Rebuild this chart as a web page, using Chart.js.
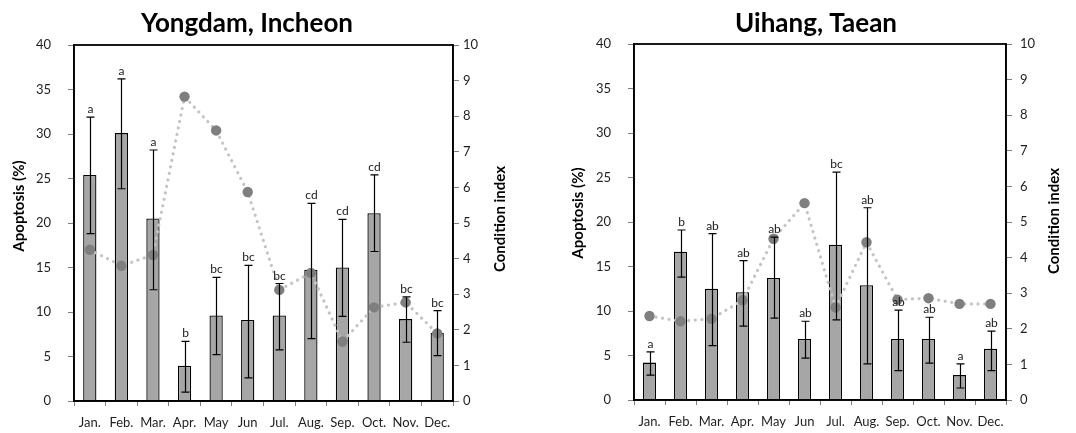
<!DOCTYPE html>
<html lang="en">
<head>
  <meta charset="UTF-8">
  <title>Apoptosis and condition index</title>
  <script src="https://cdn.jsdelivr.net/npm/chart.js"></script>
  <style>
    body { margin: 0; background: #fff; }
    .panel { position: absolute; top: 0; }
    #left { left: 0; }
    #right { left: 540px; }
  </style>
</head>
<body>
  <div class="panel" id="left"><canvas id="yongdam" width="540" height="433"></canvas></div>
  <div class="panel" id="right"><canvas id="uihang" width="536" height="433"></canvas></div>

  <script>
    // values
    const months = ['Jan.', 'Feb.', 'Mar.', 'Apr.', 'May', 'Jun', 'Jul.', 'Aug.', 'Sep.', 'Oct.', 'Nov.', 'Dec.'];
    const apoptosisTicks = [0, 5, 10, 15, 20, 25, 30, 35, 40];
    const conditionTicks = [0, 1, 2, 3, 4, 5, 6, 7, 8, 9, 10];

    const yongdamApoptosis = [25.4, 30.1, 20.5, 3.95, 9.6, 9.1, 9.6, 14.75, 15.0, 21.1, 9.2, 7.65];
    const yongdamUpper = [31.9, 36.2, 28.2, 6.7, 13.9, 15.25, 13.2, 22.2, 20.4, 25.4, 11.7, 10.15];
    const yongdamLower = [18.8, 23.85, 12.5, 1.0, 5.2, 2.6, 5.75, 7.0, 9.5, 16.8, 6.6, 5.1];
    const yongdamCondition = [4.25, 3.8, 4.1, 8.55, 7.6, 5.87, 3.12, 3.6, 1.67, 2.63, 2.77, 1.9];
    const yongdamLetters = ['a', 'a', 'a', 'b', 'bc', 'bc', 'bc', 'cd', 'cd', 'cd', 'bc', 'bc'];

    const uihangApoptosis = [4.2, 16.65, 12.5, 12.1, 13.7, 6.85, 17.45, 12.9, 6.85, 6.85, 2.8, 5.75];
    const uihangUpper = [5.4, 19.1, 18.7, 15.65, 18.3, 8.85, 25.6, 21.6, 10.1, 9.3, 4.05, 7.75];
    const uihangLower = [2.8, 13.8, 6.1, 8.3, 9.2, 4.7, 9.0, 4.05, 3.3, 4.15, 1.35, 3.3];
    const uihangCondition = [2.36, 2.21, 2.28, 2.8, 4.53, 5.53, 2.6, 4.43, 2.82, 2.86, 2.7, 2.7];
    const uihangLetters = ['a', 'b', 'ab', 'ab', 'ab', 'ab', 'bc', 'ab', 'ab', 'ab', 'a', 'ab'];

    const FONT = 'Lato, "Open Sans", sans-serif';
    const tickFont = { family: FONT, size: 13 };
    const tickColor = '#1f1f1f';

    // error bars, letters, frame and titles
    const decor = {
      id: 'decor',
      afterDatasetsDraw(chart, args, opts) {
        const ctx = chart.ctx;
        const y = chart.scales.y;
        const bars = chart.getDatasetMeta(1).data;
        ctx.save();
        ctx.strokeStyle = '#000';
        ctx.lineWidth = 1.2;
        bars.forEach((bar, i) => {
          const x = Math.round(bar.x) + 0.5;
          const hi = y.getPixelForValue(opts.upper[i]);
          const lo = y.getPixelForValue(opts.lower[i]);
          ctx.beginPath();
          ctx.moveTo(x, hi); ctx.lineTo(x, lo);
          ctx.moveTo(x - 4, hi); ctx.lineTo(x + 4, hi);
          ctx.moveTo(x - 4, lo); ctx.lineTo(x + 4, lo);
          ctx.stroke();
          ctx.fillStyle = '#1a1a1a';
          ctx.font = '12px ' + FONT;
          ctx.textAlign = 'center';
          ctx.textBaseline = 'alphabetic';
          ctx.fillText(opts.letters[i], x, hi - 4);
        });
        ctx.restore();
      },
      afterDraw(chart, args, opts) {
        const ctx = chart.ctx;
        const a = chart.chartArea;
        ctx.save();
        ctx.strokeStyle = '#000';
        ctx.lineWidth = 1.8;
        ctx.strokeRect(a.left, a.top, a.right - a.left, a.bottom - a.top);

        ctx.fillStyle = '#000';
        ctx.textAlign = 'center';
        ctx.textBaseline = 'alphabetic';
        ctx.font = 'bold 26px ' + FONT;
        ctx.fillText(opts.title, opts.titleX, 32);

        ctx.font = 'bold 15px ' + FONT;
        ctx.textBaseline = 'middle';
        [[opts.leftTitle, opts.leftX, opts.leftY], [opts.rightTitle, opts.rightX, opts.rightY]].forEach(t => {
          ctx.save();
          ctx.translate(t[1], t[2]);
          ctx.rotate(-Math.PI / 2);
          ctx.fillText(t[0], 0, 0);
          ctx.restore();
        });
        ctx.restore();
      }
    };

    function makeChart(id, apoptosis, condition, decorOpts, sizes) {
      const ctx = document.getElementById(id).getContext('2d');
      return new Chart(ctx, {
        data: {
          labels: months,
          datasets: [{
            type: 'line',
            label: 'Condition index',
            data: condition,
            yAxisID: 'y1',
            order: 0,
            borderColor: '#c4c4c4',
            borderWidth: 3.2,
            borderDash: [0.01, 6.6],
            borderCapStyle: 'round',
            tension: 0,
            fill: false,
            pointRadius: 5.2,
            pointBackgroundColor: '#7f7f7f',
            pointBorderColor: '#7f7f7f',
            pointBorderWidth: 0
          }, {
            type: 'bar',
            label: 'Apoptosis (%)',
            data: apoptosis,
            yAxisID: 'y',
            order: 1,
            backgroundColor: '#a6a6a6',
            borderColor: '#000',
            borderWidth: 1.3,
            barPercentage: 0.42,
            categoryPercentage: 1.0
          }]
        },
        options: {
          responsive: false,
          animation: false,
          layout: { padding: { top: sizes.top, left: 0, right: 0, bottom: 0 } },
          plugins: {
            legend: { display: false },
            tooltip: { enabled: false },
            decor: decorOpts
          },
          scales: {
            x: {
              grid: { drawOnChartArea: false, tickLength: 5, color: '#808080', offset: true },
              border: { color: '#000', width: 1.5 },
              ticks: { font: tickFont, color: tickColor, padding: 9, autoSkip: false, maxRotation: 0 },
              afterFit: s => { s.height = sizes.xh; }
            },
            y: {
              position: 'left',
              min: 0, max: 40,
              afterBuildTicks: s => { s.ticks = apoptosisTicks.map(v => ({ value: v })); },
              ticks: { font: tickFont, color: tickColor, padding: sizes.lpad },
              grid: { drawOnChartArea: false, tickLength: 6, color: '#808080' },
              border: { color: '#000', width: 1.5 },
              afterFit: s => { s.width = sizes.lw; }
            },
            y1: {
              position: 'right',
              min: 0, max: 10,
              afterBuildTicks: s => { s.ticks = conditionTicks.map(v => ({ value: v })); },
              ticks: { font: tickFont, color: tickColor, padding: sizes.rpad },
              grid: { drawOnChartArea: false, tickLength: 6, color: '#808080' },
              border: { color: '#000', width: 1.5 },
              afterFit: s => { s.width = sizes.rw; }
            }
          }
        },
        plugins: [decor]
      });
    }

    makeChart('yongdam', yongdamApoptosis, yongdamCondition, {
      upper: yongdamUpper, lower: yongdamLower, letters: yongdamLetters,
      title: 'Yongdam, Incheon', titleX: 247,
      leftTitle: 'Apoptosis (%)', leftX: 19, leftY: 206,
      rightTitle: 'Condition index', rightX: 500, rightY: 219
    }, { top: 45, xh: 32, lw: 74, rw: 87, lpad: 17, rpad: 4 });

    makeChart('uihang', uihangApoptosis, uihangCondition, {
      upper: uihangUpper, lower: uihangLower, letters: uihangLetters,
      title: 'Uihang, Taean', titleX: 276,
      leftTitle: 'Apoptosis (%)', leftX: 38, leftY: 213,
      rightTitle: 'Condition index', rightX: 514, rightY: 221
    }, { top: 44, xh: 33, lw: 94, rw: 70, lpad: 17, rpad: 8 });
  </script>
</body>
</html>
